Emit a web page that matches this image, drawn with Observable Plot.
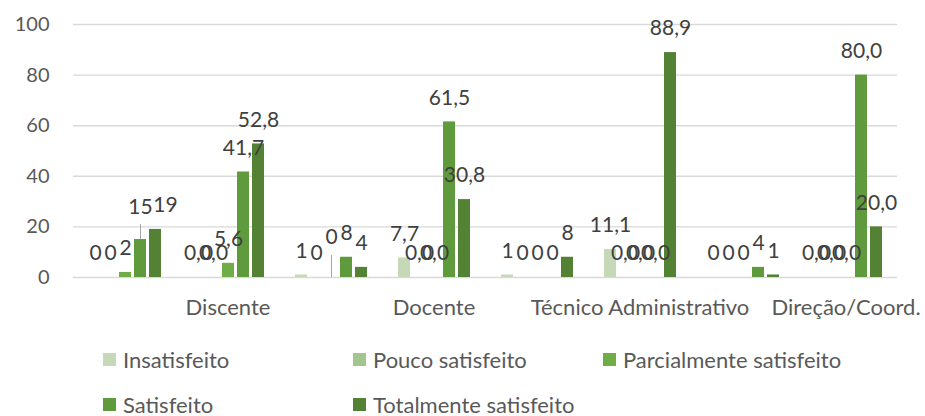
<!DOCTYPE html>
<html>
<head>
<meta charset="utf-8">
<script src="https://cdn.jsdelivr.net/npm/d3@7"></script>
<script src="https://cdn.jsdelivr.net/npm/@observablehq/plot@0.6"></script>
<style>
  html, body { margin: 0; padding: 0; background: #fff; }
  #chart { width: 925px; }
  .legend {
    display: grid;
    grid-template-columns: 250px 250px 250px;
    grid-auto-rows: 45px;
    padding-left: 103px;
    padding-top: 1px;
    font-family: Lato, "Open Sans", sans-serif;
    font-size: 22px;
    line-height: 24px;
    color: #595959;
  }
  .legend .item { display: flex; align-items: center; white-space: nowrap; }
  .legend .sw { width: 13px; height: 13px; margin-right: 7px; flex: none; }
</style>
</head>
<body>
<div id="chart"></div>
<script>
// Categories and series
const categories = ["Discente", "Docente", "Técnico Administrativo", "Direção/Coord."];
const series = ["Insatisfeito", "Pouco satisfeito", "Parcialmente satisfeito", "Satisfeito", "Totalmente satisfeito"];
const colors = ["#c5d9b8", "#a5c58e", "#70ad47", "#5f9b3c", "#548235"];
const yTicks = [0, 20, 40, 60, 80, 100];

// Counts (n) per category, in series order
const countsDiscente = [0, 0, 2, 15, 19];
const countsDocente = [1, 0, 0, 8, 4];
const countsTecnico = [1, 0, 0, 0, 8];
const countsDirecao = [0, 0, 0, 4, 1];

// Percentages per category, in series order
const pctDiscente = [0.0, 0.0, 5.6, 41.7, 52.8];
const pctDocente = [7.7, 0.0, 0.0, 61.5, 30.8];
const pctTecnico = [11.1, 0.0, 0.0, 0.0, 88.9];
const pctDirecao = [0.0, 0.0, 0.0, 80.0, 20.0];

const countsByCat = [countsDiscente, countsDocente, countsTecnico, countsDirecao];
const pctByCat = [pctDiscente, pctDocente, pctTecnico, pctDirecao];

// Build table: each category has a count group (unlabelled) then a percent group
const groups = [];
const rows = [];
categories.forEach((cat, i) => {
  const gN = cat + " (n)";
  const gP = cat;
  groups.push(gN, gP);
  series.forEach((s, j) => {
    rows.push({group: gN, series: s, value: countsByCat[i][j], label: String(countsByCat[i][j])});
  });
  series.forEach((s, j) => {
    rows.push({group: gP, series: s, value: pctByCat[i][j], label: pctByCat[i][j].toFixed(1).replace(".", ",")});
  });
});

// Labels that the original moved aside to avoid collisions (with leader lines)
const raised15 = rows.filter(d => d.group === "Discente (n)" && d.series === "Satisfeito");
const shifted19 = rows.filter(d => d.group === "Discente (n)" && d.series === "Totalmente satisfeito");
const raised0 = rows.filter(d => d.group === "Docente (n)" && d.series === "Parcialmente satisfeito");
const special = new Set([...raised15, ...shifted19, ...raised0]);
const plainRows = rows.filter(d => !special.has(d));

const labelStyle = {fx: "group", x: "series", y: "value", text: "label", fill: "#404040", fontSize: 21};

const chart = Plot.plot({
  width: 925,
  height: 336,
  marginLeft: 69,
  marginRight: 25,
  marginTop: 24,
  marginBottom: 59,
  style: {fontFamily: "Lato, 'Open Sans', sans-serif", fontSize: "20px", color: "#595959", background: "#fff", overflow: "visible"},
  fx: {domain: groups, padding: 0, label: null, tickSize: 0, tickPadding: 22,
       tickFormat: d => d.endsWith(" (n)") ? "" : d},
  x: {domain: series, axis: null, paddingInner: 0.22, paddingOuter: 0.855},
  y: {domain: [0, 100], ticks: yTicks, label: null, tickSize: 0, tickPadding: 24},
  color: {domain: series, range: colors},
  marks: [
    Plot.gridY(yTicks, {stroke: "#d9d9d9", strokeOpacity: 1, strokeWidth: 1.4}),
    Plot.barY(rows, {fx: "group", x: "series", y: "value", fill: "series"}),
    Plot.ruleX(raised15, {fx: "group", x: "series", y1: "value", y2: "value", insetTop: -15, stroke: "#a6a6a6", strokeWidth: 1}),
    Plot.ruleX(raised0, {fx: "group", x: "series", y1: "value", y2: "value", insetTop: -22, stroke: "#a6a6a6", strokeWidth: 1}),
    Plot.text(plainRows, {...labelStyle, dy: -24}),
    Plot.text(raised15, {...labelStyle, dy: -32}),
    Plot.text(shifted19, {...labelStyle, dy: -24, dx: 10}),
    Plot.text(raised0, {...labelStyle, dy: -40})
  ]
});
chart.querySelectorAll("g[aria-label='fx-axis tick label'] text").forEach(t => t.setAttribute("font-size", "22px"));
document.getElementById("chart").appendChild(chart);

// Legend (HTML, below the SVG)
const legend = document.createElement("div");
legend.className = "legend";
series.forEach((s, i) => {
  const item = document.createElement("div");
  item.className = "item";
  const sw = document.createElement("span");
  sw.className = "sw";
  sw.style.background = colors[i];
  const t = document.createElement("span");
  t.textContent = s;
  item.appendChild(sw);
  item.appendChild(t);
  legend.appendChild(item);
});
document.getElementById("chart").appendChild(legend);
</script>
</body>
</html>
